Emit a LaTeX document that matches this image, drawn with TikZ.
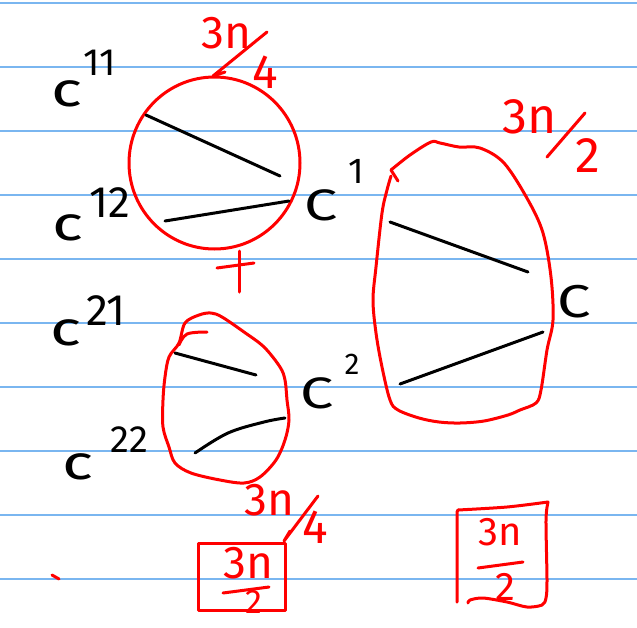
\documentclass[tikz,border=0pt]{standalone}
\usepackage{fontspec}
\setmainfont{Fira Sans}
\definecolor{rulecol}{RGB}{122,182,240}
\definecolor{inkred}{RGB}{255,0,0}
\begin{document}
\begin{tikzpicture}[x=1pt,y=-1pt,line cap=round,line join=round,
  rule/.style={rulecol,line width=1.8pt},
  blk/.style={black,line width=3pt},
  rd/.style={inkred,line width=3pt},
  lowc/.style={inner sep=0pt,text=black,font=\fontsize{48}{48}\selectfont},
  capc/.style={inner sep=0pt,text=black,font=\fontsize{44}{44}\selectfont},
  idx/.style={inner sep=0pt,text=black,font=\fontsize{40}{40}\selectfont},
  rtxt/.style={inner sep=0pt,text=inkred,font=\fontsize{46}{46}\selectfont},
]
\useasboundingbox (0,0) rectangle (637,627);
\fill[white] (0,0) rectangle (637,627);
\foreach \yy in {3,67,...,579} \draw[rule] (0,\yy) -- (637,\yy);

% ---- black labels
\node[lowc] (c11) at (67,94) {\scalebox{1.35}[1]{c}};
\node[idx,font=\fontsize{38}{38}\selectfont] (s11) at (100,63) {11};
\node[lowc] (c12) at (68,228) {\scalebox{1.35}[1]{c}};
\node[idx,font=\fontsize{44}{44}\selectfont] (s12) at (110,203) {12};
\node[capc] (C1) at (321,205) {\scalebox{1.35}[1]{C}};
\node[idx,font=\fontsize{36}{36}\selectfont] (s1) at (356,171) {1};
\node[lowc] (c21) at (66,333) {\scalebox{1.35}[1]{c}};
\node[idx,font=\fontsize{44}{44}\selectfont] (s21) at (106,311) {21};
\node[lowc] (c22) at (78,467) {\scalebox{1.35}[1]{c}};
\node[idx,font=\fontsize{38}{38}\selectfont] (s22) at (129,440) {22};
\node[capc] (C2) at (317,393) {\scalebox{1.35}[1]{C}};
\node[idx,font=\fontsize{30}{30}\selectfont] (s2) at (352,364) {2};
\node[capc,font=\fontsize{46}{46}\selectfont] (C) at (574,302) {\scalebox{1.3}[1]{C}};

% ---- circle (top-left)
\draw[rd] (214.5,163) ellipse [x radius=85.5, y radius=86];
\draw[blk] (146,115) -- (280,176);
\draw[blk] (165,221) -- (289,201);
\node[rtxt] (t3n) at (226,33) {3n};
\node[rtxt,font=\fontsize{48}{48}\selectfont] (t4) at (265,72) {4};
\draw[rd] (267,32) -- (213,76) -- (225,72);

% ---- plus
\draw[rd] (239,251) -- (239,292);
\draw[rd] (217,268) -- (254,263);

% ---- big blob (right)
\draw[rd] (398,181) -- (391,170);
\draw[rd] plot[smooth,tension=0.55] coordinates {(391,170) (410,155) (431,142) (440,143) (459,147) (480,148) (504,163) (528,200) (543,233) (551,277) (553,320) (547,350) (541,390) (536,403) (520,410) (508,415) (484,421) (460,423) (439,422) (419,418) (398,410) (390,400) (382,367) (376,333) (373,300) (376,267) (382,213) (387,190) (391,176)};
\draw[blk] (390,222) -- (528,272);
\draw[blk] (400,384) -- (543,332);
\node[rtxt,font=\fontsize{50}{50}\selectfont] (b3n) at (530,117) {3n};
\node[rtxt,font=\fontsize{50}{50}\selectfont] (b2) at (588,156) {2};
\draw[rd] (585,113) -- (547,157);

% ---- small blob
\draw[rd] plot[smooth cycle,tension=0.55] coordinates {(179,343) (185,323) (199,315) (211,313) (222,317) (244,332) (264,347) (280,367) (285,380) (287,400) (289,420) (285,440) (276,460) (260,477) (244,483) (220,480) (191,473) (175,463) (169,447) (163,427) (163,400) (165,377) (169,357)};
\draw[rd] plot[smooth,tension=0.6] coordinates {(179,345) (187,334) (207,332)};
\draw[blk] (175,353) -- (256,375);
\draw[blk] plot[smooth,tension=0.6] coordinates {(195,453) (228,433) (264,422) (285,418)};

% ---- bottom 3n/4 and small box
\node[rtxt] (m3n) at (269,500) {3n};
\node[rtxt,font=\fontsize{48}{48}\selectfont] (m4) at (315,527) {4};
\draw[rd] (318,496) -- (284,541) -- (290,531);
\draw[rd] (198,543) rectangle (285,610);
\node[rtxt] (k3n) at (248,563) {3n};
\draw[rd] (223,593) -- (269,587);
\node[rtxt,font=\fontsize{34}{34}\selectfont] (k2) at (254,602) {2};

% ---- big box (right bottom)
\draw[rd] (457,602) -- (457,512) -- (458,510);
\draw[rd] plot[smooth,tension=0.5] coordinates {(458,510) (507,507) (548,502)};
\draw[rd] plot[smooth,tension=0.5] coordinates {(548,502) (546,520) (547,580) (546,598) (542,605) (527,607) (507,602) (483,598) (470,600) (468,603)};
\node[rtxt,font=\fontsize{40}{40}\selectfont] (r3n) at (500,532) {3n};
\draw[rd] (478,568) -- (523,562);
\node[rtxt,font=\fontsize{40}{40}\selectfont] (r2) at (505,587) {2};

% ---- stray dot
\draw[rd] (52,575) -- (59,579);
\end{tikzpicture}
\end{document}
